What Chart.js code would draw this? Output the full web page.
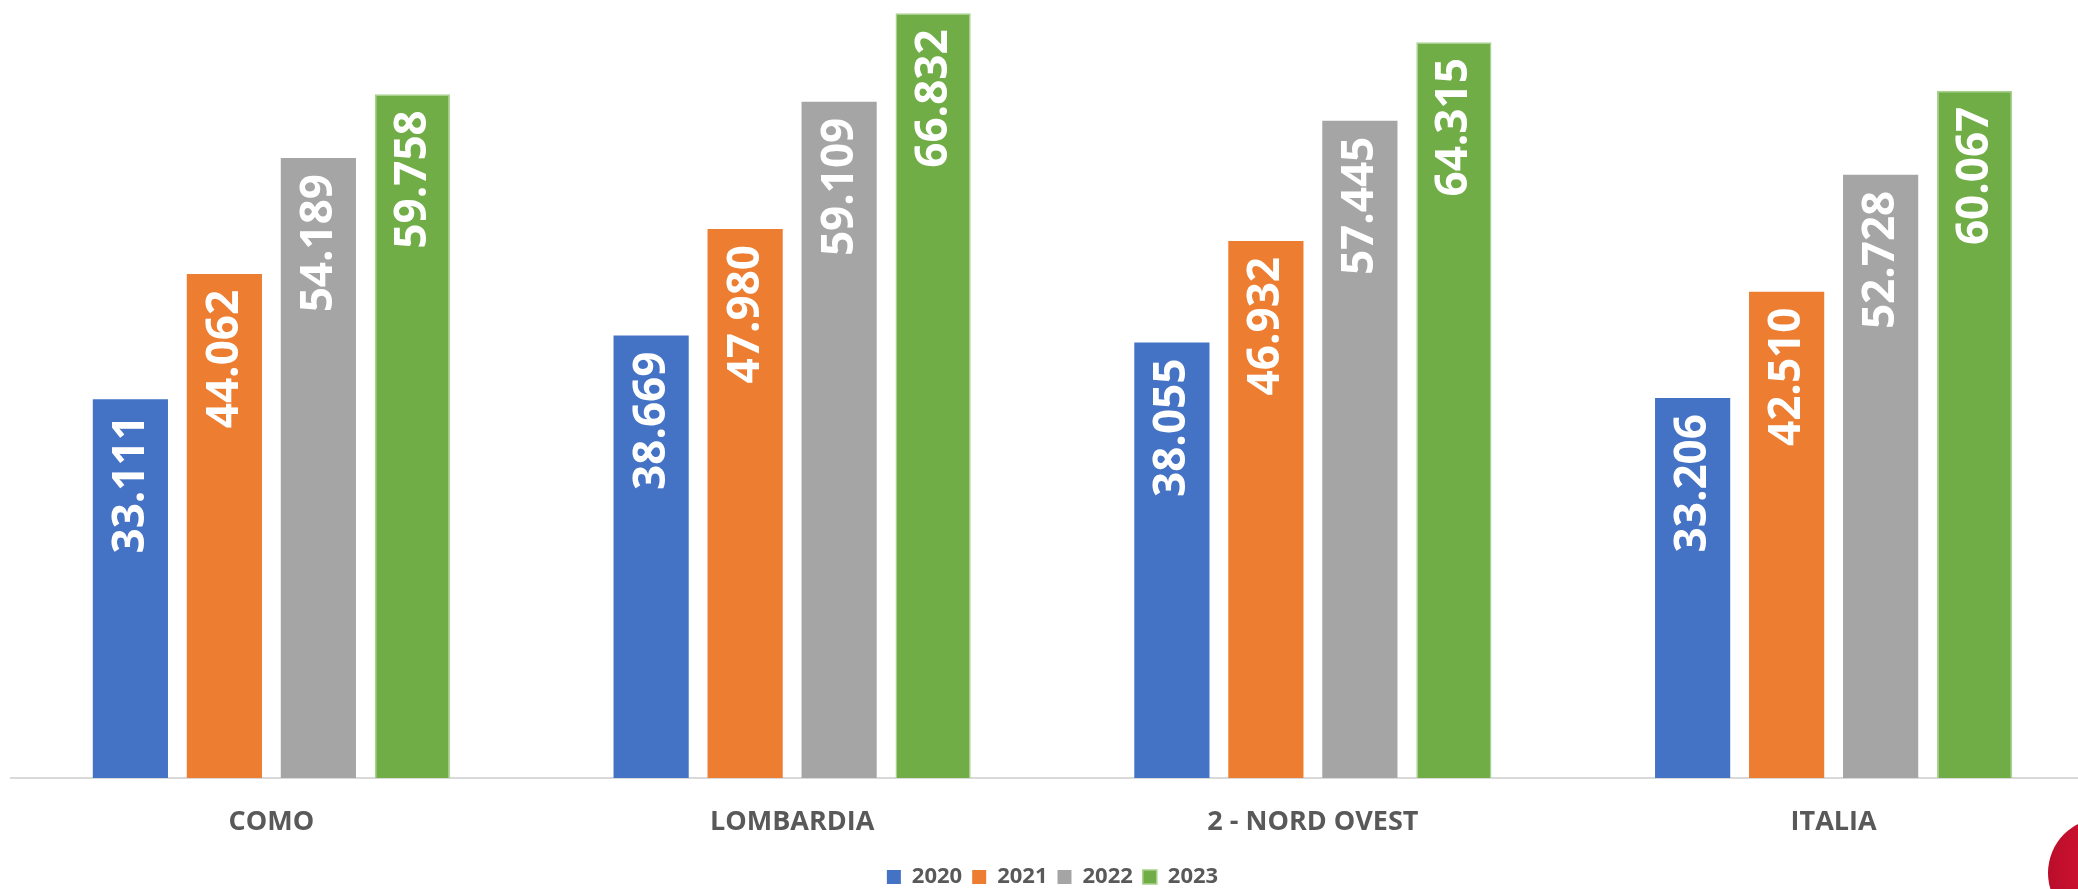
<!DOCTYPE html>
<html>
<head>
<meta charset="utf-8">
<script src="https://cdn.jsdelivr.net/npm/chart.js@4/dist/chart.umd.min.js"></script>
<style>
  html, body { margin: 0; padding: 0; background: #fff; overflow: hidden; width: 2078px; height: 889px; }
  #wrap { position: absolute; left: 0; top: 0; width: 2122px; height: 903px; }
  #logo { position: absolute; left: 2048px; top: 818px; width: 110px; height: 110px; border-radius: 50%;
          background: radial-gradient(circle at 70% 40%, #d6163f 0%, #c8102e 55%, #a80c27 100%); }
</style>
</head>
<body>
<div id="wrap"><canvas id="c" width="2122" height="903"></canvas></div>
<div id="logo"></div>
<script>
const categories = ['COMO', 'LOMBARDIA', '2 - NORD OVEST', 'ITALIA'];
const seriesNames = ['2020', '2021', '2022', '2023'];
const values2020 = [33111, 38669, 38055, 33206];
const values2021 = [44062, 47980, 46932, 42510];
const values2022 = [54189, 59109, 57445, 52728];
const values2023 = [59758, 66832, 64315, 60067];
const colors = ['#4472C4', '#ED7D31', '#A5A5A5', '#70AD47'];
const borders = ['#4472C4', '#ED7D31', '#A5A5A5', '#A9D18E'];

const fmt = v => String(v).replace(/\B(?=(\d{3})+(?!\d))/g, '.');

const labelPlugin = {
  id: 'barLabels',
  afterDatasetsDraw(chart) {
    const ctx = chart.ctx;
    ctx.save();
    ctx.fillStyle = '#ffffff';
    ctx.font = 'bold 44px "Open Sans"';
    ctx.textAlign = 'right';
    ctx.textBaseline = 'middle';
    chart.data.datasets.forEach((ds, di) => {
      chart.getDatasetMeta(di).data.forEach((bar, i) => {
        ctx.save();
        ctx.translate(bar.x, bar.y + 16);
        ctx.rotate(-Math.PI / 2);
        ctx.fillText(fmt(ds.data[i]), 0, 1);
        ctx.restore();
      });
    });
    ctx.restore();
  }
};

const allSeries = [values2020, values2021, values2022, values2023];
new Chart(document.getElementById('c'), {
  type: 'bar',
  data: {
    labels: categories,
    datasets: allSeries.map((vals, k) => ({
      label: seriesNames[k],
      data: vals,
      backgroundColor: colors[k],
      borderColor: borders[k],
      borderWidth: k === 3 ? 1.5 : 0,
      categoryPercentage: 0.722,
      barPercentage: 0.8
    }))
  },
  options: {
    responsive: false,
    animation: false,
    devicePixelRatio: 1,
    layout: { padding: { left: 11, right: 28, top: 0, bottom: 5 } },
    plugins: {
      tooltip: { enabled: false },
      legend: {
        position: 'bottom',
        labels: {
          boxWidth: 14, boxHeight: 14, padding: 10,
          color: '#595959',
          font: { family: 'Open Sans', size: 22, weight: 'bold' }
        }
      }
    },
    scales: {
      x: {
        grid: { display: false, drawTicks: false },
        border: { display: true, color: '#D9D9D9', width: 2 },
        ticks: { color: '#595959', padding: 28, font: { family: 'Open Sans', size: 27, weight: 'bold' } },
        afterFit: scale => { scale.height = 78; }
      },
      y: { display: false, min: 0, max: 68000 }
    }
  },
  plugins: [labelPlugin]
});
</script>
</body>
</html>
